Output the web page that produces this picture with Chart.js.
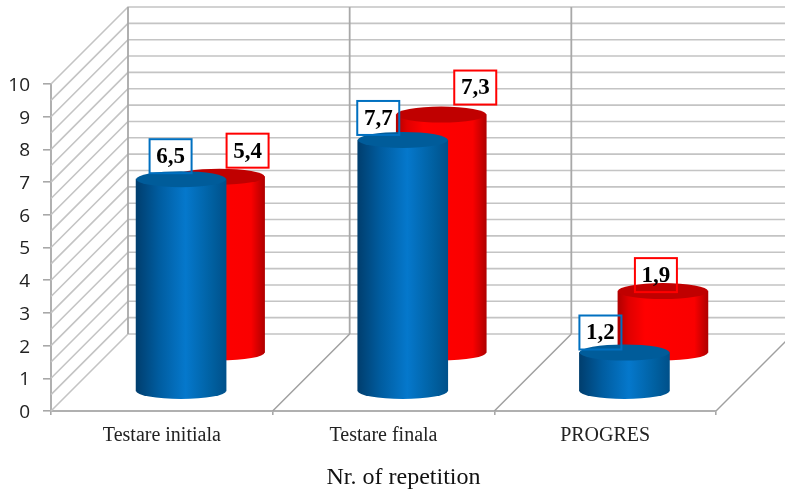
<!DOCTYPE html>
<html>
<head>
<meta charset="utf-8">
<script src="https://cdn.jsdelivr.net/npm/chart.js@4"></script>
<style>
  html, body { margin: 0; padding: 0; background: #fff; }
  canvas { display: block; }
</style>
</head>
<body>
<canvas id="chart" width="785" height="492"></canvas>
<script>
const categories = ['Testare initiala', 'Testare finala', 'PROGRES'];
const blueValues = [6.5, 7.7, 1.2];
const redValues = [5.4, 7.3, 1.9];
const yTicks = [0, 1, 2, 3, 4, 5, 6, 7, 8, 9, 10];
const xTitle = 'Nr. of repetition';

// 3D look: depth of the floor in px, and how far back each series stands
const DEPTH = 77;
const seriesDepth = [DEPTH * 0.25, DEPTH * 0.75];
const BAR_WIDTH = 90;
const CAP_RY = 8;

const seriesLook = [
  { stops: [[0, '#003e6e'], [0.25, '#005c9f'], [0.55, '#0578cc'], [0.85, '#005f9f'], [1, '#00508a']], cap: '#005c9a', box: '#0070c0' },
  { stops: [[0, '#b00000'], [0.12, '#e00000'], [0.3, '#ff0000'], [0.85, '#fa0000'], [1, '#b00000']], cap: '#c00000', box: '#ff0000' }
];

// label box position relative to the top of its cylinder, set by hand
const labelNudge = [
  [[-10.5, -23], [-24.5, -22], [-24, -20]],
  [[28, -26], [34, -27], [-7, -16]]
];
const BOX_W = 42;
const BOX_H = 34;

function sideGradient(ctx, x, width, look) {
  const g = ctx.createLinearGradient(x - width / 2, 0, x + width / 2, 0);
  look.stops.forEach((s) => g.addColorStop(s[0], s[1]));
  return g;
}

function eachLabel(chart, fn) {
  chart.data.datasets.forEach((ds, si) => {
    const d = seriesDepth[si];
    chart.getDatasetMeta(si).data.forEach((bar, i) => {
      fn(bar.x + d + labelNudge[si][i][0], bar.y - d + labelNudge[si][i][1], ds.data[i], si);
    });
  });
}

const cylinder3d = {
  id: 'cylinder3d',
  // walls and floor
  beforeDatasetsDraw(chart) {
    const { ctx, scales: { x, y } } = chart;
    const left = x.left;
    const right = x.right;
    const step = (right - left) / categories.length;
    const bottom = y.getPixelForValue(0);
    const top = y.getPixelForValue(10);
    ctx.save();

    // horizontal lines on the back wall, diagonals on the side wall
    ctx.strokeStyle = '#c4c4c4';
    ctx.lineWidth = 1.6;
    for (let v = 0; v <= 20; v++) {
      const py = y.getPixelForValue(v / 2);
      ctx.beginPath();
      ctx.moveTo(left, py);
      ctx.lineTo(left + DEPTH, py - DEPTH);
      ctx.lineTo(right + DEPTH, py - DEPTH);
      ctx.stroke();
    }

    // back wall verticals
    ctx.strokeStyle = '#a8a8a8';
    ctx.lineWidth = 1.8;
    for (let i = 0; i < categories.length; i++) {
      const px = left + i * step + DEPTH;
      ctx.beginPath();
      ctx.moveTo(px, top - DEPTH);
      ctx.lineTo(px, bottom - DEPTH);
      ctx.stroke();
    }

    // floor diagonals
    ctx.strokeStyle = '#a0a0a0';
    ctx.lineWidth = 1.5;
    for (let i = 1; i <= categories.length; i++) {
      const px = left + i * step;
      ctx.beginPath();
      ctx.moveTo(px, bottom);
      ctx.lineTo(px + DEPTH, bottom - DEPTH);
      ctx.stroke();
    }

    // label boxes are white behind the cylinders, the caps cover them
    ctx.fillStyle = '#fff';
    eachLabel(chart, (cx, cy) => ctx.fillRect(cx - BOX_W / 2, cy - BOX_H / 2, BOX_W, BOX_H));
    ctx.restore();
  },
  // the bar itself is drawn by chart.js, shifted back along the floor
  beforeDatasetDraw(chart, args) {
    const { ctx } = chart;
    const d = seriesDepth[args.index];
    const look = seriesLook[args.index];
    ctx.save();
    ctx.translate(d, -d);
    args.meta.data.forEach((bar) => {
      ctx.fillStyle = sideGradient(ctx, bar.x, bar.width, look);
      ctx.beginPath();
      ctx.ellipse(bar.x, bar.base, bar.width / 2, CAP_RY, 0, 0, Math.PI * 2);
      ctx.fill();
    });
  },
  afterDatasetDraw(chart, args) {
    const { ctx } = chart;
    const look = seriesLook[args.index];
    args.meta.data.forEach((bar) => {
      ctx.fillStyle = look.cap;
      ctx.beginPath();
      ctx.ellipse(bar.x, bar.y, bar.width / 2, CAP_RY, 0, 0, Math.PI * 2);
      ctx.fill();
    });
    ctx.restore();
  },
  afterDatasetsDraw(chart) {
    const { ctx, scales: { x } } = chart;
    ctx.save();
    ctx.textAlign = 'center';
    ctx.textBaseline = 'middle';
    ctx.font = 'bold 23px "Liberation Serif"';
    eachLabel(chart, (cx, cy, value, si) => {
      ctx.strokeStyle = seriesLook[si].box;
      ctx.lineWidth = 2;
      ctx.strokeRect(cx - BOX_W / 2, cy - BOX_H / 2, BOX_W, BOX_H);
      ctx.fillStyle = '#000';
      ctx.fillText(String(value).replace('.', ','), cx, cy + 1);
    });
    // axis title sits right of the axis centre, the scale title cannot do that
    ctx.font = '24px "Liberation Serif"';
    ctx.fillStyle = '#111';
    ctx.fillText(xTitle, (x.left + x.right) / 2 + 20, x.top + 67);
    ctx.restore();
  }
};

function sideFill(si) {
  return (c) => {
    const x = c.chart.scales.x.getPixelForValue(c.dataIndex);
    // scales have no size yet on the first pass
    if (!isFinite(x)) return seriesLook[si].box;
    return sideGradient(c.chart.ctx, x, BAR_WIDTH, seriesLook[si]);
  };
}

new Chart(document.getElementById('chart'), {
  type: 'bar',
  data: {
    labels: categories,
    datasets: [
      { label: 'Blue', data: blueValues, backgroundColor: sideFill(0) },
      { label: 'Red', data: redValues, backgroundColor: sideFill(1) }
    ]
  },
  plugins: [cylinder3d],
  options: {
    responsive: false,
    animation: false,
    layout: { padding: { top: 84, right: 69, left: 0, bottom: 0 } },
    datasets: { bar: { grouped: false, barThickness: BAR_WIDTH, clip: false, borderWidth: 0 } },
    plugins: { legend: { display: false }, tooltip: { enabled: false } },
    scales: {
      x: {
        afterFit: (scale) => { scale.height = 81; },
        grid: { drawOnChartArea: false, tickLength: 4, tickColor: '#a8a8a8', lineWidth: 1.6 },
        border: { color: '#b0b0b0', width: 2 },
        ticks: { font: { family: '"Liberation Serif"', size: 20 }, color: '#222', padding: 9, maxRotation: 0 }
      },
      y: {
        min: 0,
        max: 10,
        afterFit: (scale) => { scale.width = 51; },
        afterBuildTicks: (scale) => { scale.ticks = yTicks.map((v) => ({ value: v })); },
        grid: { drawOnChartArea: false, tickLength: 8, tickColor: '#a8a8a8', lineWidth: 1.6 },
        border: { color: '#b0b0b0', width: 2 },
        ticks: { font: { family: '"Open Sans"', size: 19 }, color: '#222', padding: 13, labelOffset: 1.5 }
      }
    }
  }
});
</script>
</body>
</html>
